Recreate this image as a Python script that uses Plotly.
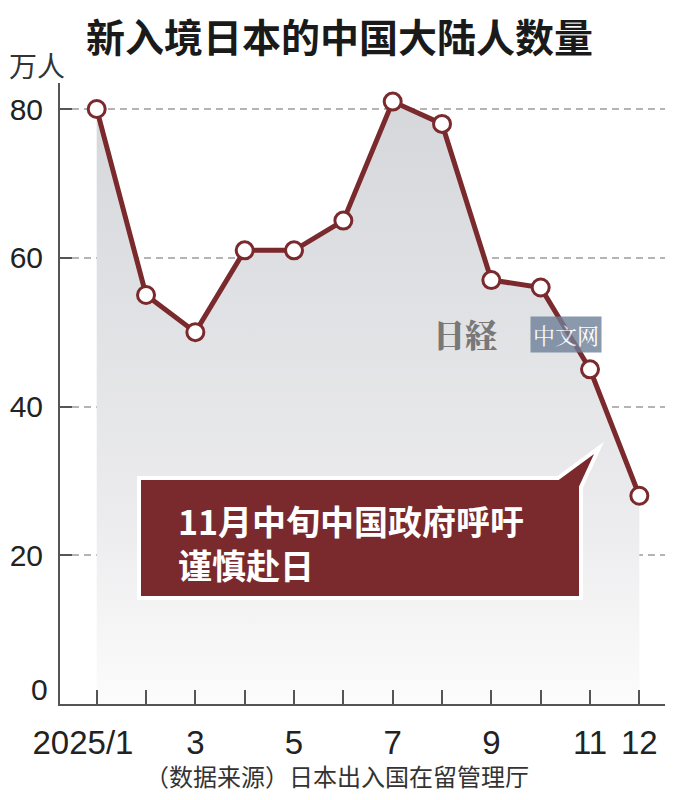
import plotly.graph_objects as go

# ---------------- data ----------------
months = list(range(1, 13))
values = [80, 55, 50, 61, 61, 65, 81, 78, 57, 56, 45, 28]
x_tick_text = ["2025/1\u00a0\u00a0\u00a0", "", "3", "", "5", "", "7", "", "9", "", "11", "12"]
y_tick_vals = [20, 40, 60, 80]
title_text = "新入境日本的中国大陆人数量"
unit_text = "万人"
source_text = "（数据来源）日本出入国在留管理厅"
note_lines = ["11月中旬中国政府呼吁", "谨慎赴日"]

# ---------------- layout helpers ----------------
# the page body has an 8px margin, so the figure is drawn 8px in from the corner
OFF = 8
W, H = 680 - 2 * OFF, 800 - 2 * OFF
L, T = 60 - OFF, 83 - OFF
PLOT_R, PLOT_B = 665 - OFF, 704 - OFF
R, B = W - PLOT_R, H - PLOT_B
PW, PH = W - L - R, H - T - B


def px(x):  # reference pixel x -> paper
    return (x - OFF - L) / PW


def py(y):  # reference pixel y -> paper
    return (H - B - (y - OFF)) / PH


RED = "#7a2a2c"
CJK = "Noto Sans CJK SC"
NUM = "Liberation Sans Narrow, Arial Narrow, Liberation Sans, Arial"

fig = go.Figure()
fig.add_trace(go.Scatter(
    x=months, y=values,
    mode="lines+markers",
    line=dict(color=RED, width=5),
    marker=dict(size=17, color="white", line=dict(color=RED, width=3)),
    fill="tozeroy",
    fillgradient=dict(type="vertical", start=0, stop=81,
                      colorscale=[[0, "#fcfcfc"], [0.3, "#ececee"],
                                  [0.7, "#dfe0e3"], [1, "#d6d7da"]]),
    cliponaxis=False,
    hoverinfo="skip",
))

box_pts = [(139, 478), (558, 478), (599, 448), (581, 487), (581, 598), (139, 598)]
path = "M " + " L ".join(f"{px(a):.5f},{py(b):.5f}" for a, b in box_pts) + " Z"

fig.update_layout(
    width=W, height=H,
    margin=dict(l=L, r=R, t=T, b=B, autoexpand=False),
    paper_bgcolor="white", plot_bgcolor="white",
    showlegend=False,
    xaxis=dict(range=[0.256, 12.52], showline=True, linecolor="#555", linewidth=2,
               ticks="inside", ticklen=14, tickwidth=1.5, tickcolor="#555",
               tickvals=months, ticktext=x_tick_text,
               tickfont=dict(family=NUM, size=33, color="#222"),
               ticklabelstandoff=8,
               showgrid=False, zeroline=False, automargin=False, fixedrange=True),
    yaxis=dict(range=[0, 83.5], showline=True, linecolor="#555", linewidth=2,
               ticks="inside", ticklen=12, tickwidth=2, tickcolor="#555",
               tickvals=y_tick_vals,
               tickfont=dict(family=NUM, size=30, color="#222"),
               ticklabelstandoff=9,
               showgrid=True, gridcolor="#b4b4b4", gridwidth=1.5, griddash="7px,5px",
               zeroline=False, automargin=False, fixedrange=True),
    shapes=[dict(type="path", path=path, xref="paper", yref="paper",
                 fillcolor=RED, line=dict(color="white", width=4), layer="above")],
)

ann = [
    dict(text=title_text, x=px(339), y=py(35), xanchor="center", yanchor="middle",
         font=dict(family=CJK, size=39, color="#1a1a1a", weight=700)),
    dict(text=unit_text, x=px(37), y=py(65), xanchor="center", yanchor="middle",
         font=dict(family=CJK, size=28, color="#333")),
    dict(text="0", x=px(50), y=py(689), xanchor="right", yanchor="middle",
         font=dict(family=NUM, size=30, color="#222")),
    dict(text=source_text, x=px(337), y=py(775), xanchor="center", yanchor="middle",
         font=dict(family=CJK, size=24, color="#333")),
    dict(text="<br>".join(note_lines), x=px(176), y=py(542), xanchor="left", yanchor="middle",
         align="left",
         font=dict(family=CJK, size=34, color="white", weight=700)),
    dict(text="日経", x=px(465), y=py(333), xanchor="center", yanchor="middle",
         font=dict(family="Noto Serif CJK JP, Noto Sans CJK JP", size=32, color="#555", weight=900),
         opacity=0.75),
    dict(text="中文网", x=px(566), y=py(334), xanchor="center", yanchor="middle",
         font=dict(family="Noto Serif CJK SC, Noto Sans CJK SC", size=22, color="white"),
         bgcolor="#6f8099", borderpad=2, opacity=0.8),
]
for a in ann:
    a.setdefault("xref", "paper")
    a.setdefault("yref", "paper")
    a["showarrow"] = False
fig.update_layout(annotations=ann)

fig.write_html("out.html")
